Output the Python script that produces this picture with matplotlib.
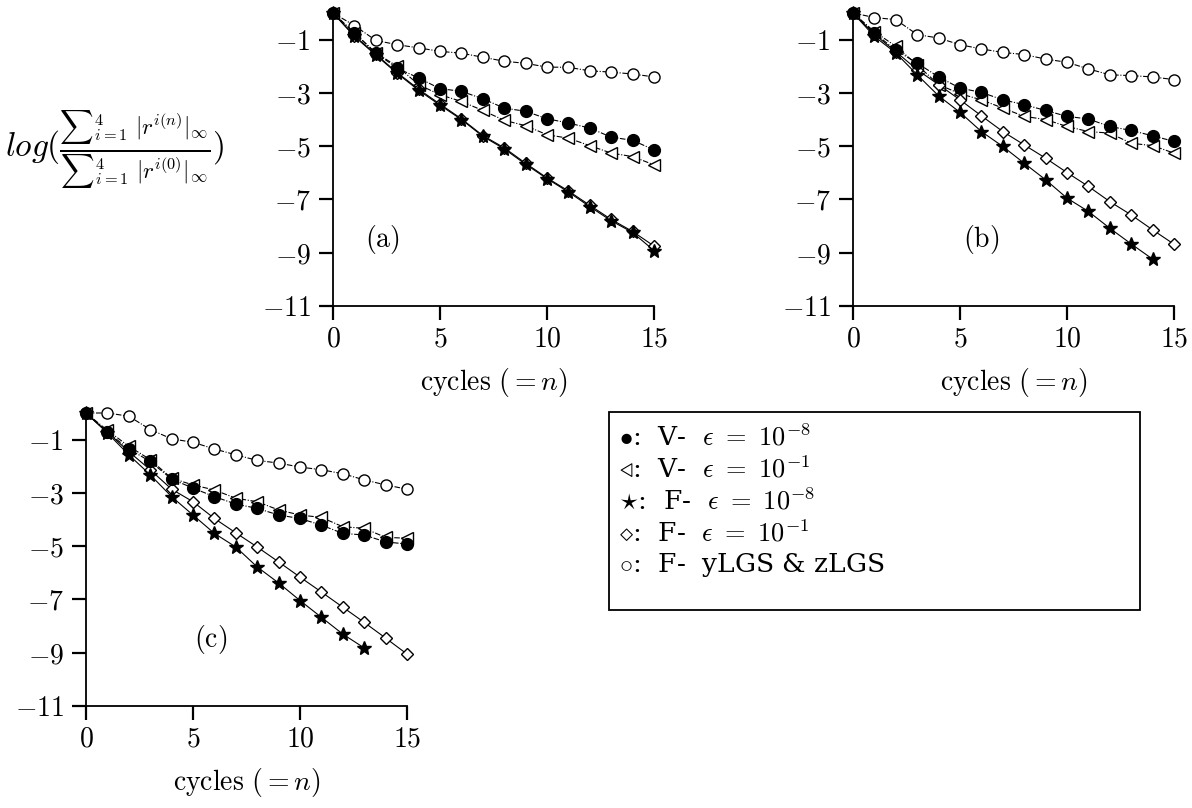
import numpy as np
import matplotlib
matplotlib.use("Agg")
import matplotlib.pyplot as plt
from matplotlib.patches import Rectangle

plt.rcParams['mathtext.fontset'] = 'cm'
plt.rcParams['font.family'] = 'serif'

cycles = np.arange(16)

# panel (a)
a_vfine = [0, -0.75, -1.50, -2.07, -2.44, -2.84, -2.94, -3.22, -3.57, -3.69, -3.97, -4.13, -4.32, -4.66, -4.78, -5.14]
a_vcoarse = [0, -0.75, -1.50, -2.00, -2.69, -3.07, -3.32, -3.66, -4.03, -4.23, -4.57, -4.70, -4.98, -5.26, -5.39, -5.70]
a_ffine = [0, -0.88, -1.58, -2.27, -2.90, -3.46, -4.00, -4.63, -5.10, -5.68, -6.22, -6.72, -7.27, -7.80, -8.24, -8.92]
a_fcoarse = [0, -0.85, -1.55, -2.24, -2.86, -3.42, -3.97, -4.60, -5.06, -5.64, -6.19, -6.68, -7.22, -7.75, -8.20, -8.75]
a_lgs = [0, -0.47, -1.03, -1.19, -1.31, -1.44, -1.51, -1.66, -1.81, -1.89, -2.03, -2.04, -2.17, -2.22, -2.29, -2.40]

# panel (b)
b_vfine = [0, -0.75, -1.40, -1.88, -2.40, -2.82, -2.98, -3.26, -3.44, -3.66, -3.88, -3.98, -4.26, -4.41, -4.61, -4.82]
b_vcoarse = [0, -0.70, -1.25, -1.95, -2.69, -3.03, -3.26, -3.57, -3.88, -4.00, -4.26, -4.45, -4.51, -4.89, -4.98, -5.26]
b_ffine = [0, -0.88, -1.50, -2.32, -3.11, -3.73, -4.45, -5.01, -5.64, -6.26, -6.95, -7.45, -8.08, -8.67, -9.24]
b_fcoarse = [0, -0.80, -1.45, -2.13, -2.69, -3.26, -3.86, -4.45, -4.95, -5.45, -5.99, -6.51, -7.08, -7.58, -8.14, -8.68]
b_lgs = [0, -0.17, -0.25, -0.81, -0.94, -1.19, -1.35, -1.48, -1.56, -1.73, -1.85, -2.10, -2.32, -2.35, -2.40, -2.50]

# panel (c)
c_vfine = [0, -0.72, -1.35, -1.82, -2.48, -2.82, -3.14, -3.42, -3.58, -3.83, -3.96, -4.21, -4.52, -4.58, -4.84, -4.92]
c_vcoarse = [0, -0.65, -1.25, -1.75, -2.45, -2.70, -2.89, -3.20, -3.33, -3.64, -3.83, -3.92, -4.27, -4.33, -4.67, -4.70]
c_ffine = [0, -0.75, -1.57, -2.32, -3.14, -3.83, -4.52, -5.03, -5.78, -6.38, -7.04, -7.67, -8.30, -8.82]
c_fcoarse = [0, -0.72, -1.45, -2.13, -2.86, -3.33, -3.96, -4.50, -5.03, -5.59, -6.16, -6.72, -7.29, -7.86, -8.45, -9.05]
c_lgs = [0, 0.00, -0.12, -0.62, -0.97, -1.10, -1.35, -1.57, -1.78, -1.88, -2.03, -2.13, -2.28, -2.51, -2.70, -2.86]

yticks = [-1, -3, -5, -7, -9, -11]
xticks = [0, 5, 10, 15]

legend_lines = [r"$\bullet$:  V-  $\epsilon\ =\ 10^{-8}$",
                r"$\triangleleft$:  V-  $\epsilon\ =\ 10^{-1}$",
                r"$\star$:  F-  $\epsilon\ =\ 10^{-8}$",
                r"$\diamond$:  F-  $\epsilon\ =\ 10^{-1}$",
                r"$\circ$:  F-  yLGS & zLGS"]

dashdot = (0, (5, 1.5, 1, 1.5))

W, H = 1192, 808
fig = plt.figure(figsize=(W / 100, H / 100), dpi=100)

def px_axes(left, top, right, bottom):
    return fig.add_axes([left / W, 1 - bottom / H, (right - left) / W, (bottom - top) / H])

def draw_panel(ax, lgs, vfine, vcoarse, ffine, fcoarse, tag, tagx):
    ax.plot(cycles[:len(lgs)], lgs, color='black', lw=0.8, ls=dashdot, marker='o',
            ms=8, mfc='white', mec='black', mew=1.0, clip_on=False, zorder=3)
    ax.plot(cycles[:len(vcoarse)], vcoarse, color='black', lw=0.8, ls=dashdot, marker='<',
            ms=9, mfc='white', mec='black', mew=1.0, clip_on=False, zorder=3)
    ax.plot(cycles[:len(vfine)], vfine, color='black', lw=0.8, ls=dashdot, marker='o',
            ms=8.5, mfc='black', mec='black', clip_on=False, zorder=4)
    ax.plot(cycles[:len(fcoarse)], fcoarse, color='black', lw=0.8, ls='-', marker='D',
            ms=6.5, mfc='white', mec='black', mew=1.0, clip_on=False, zorder=3)
    ax.plot(cycles[:len(ffine)], ffine, color='black', lw=0.8, ls='-', marker='*',
            ms=10, mfc='black', mec='black', clip_on=False, zorder=4)
    ax.set_xlim(0, 15)
    ax.set_ylim(-11, 0)
    for s in ['top', 'right']:
        ax.spines[s].set_visible(False)
    for s in ['left', 'bottom']:
        ax.spines[s].set_linewidth(1.3)
    ax.set_xticks(xticks)
    ax.set_xticklabels([f"${v}$" for v in xticks])
    ax.set_yticks(yticks)
    ax.set_yticklabels([f"${v}$" for v in yticks])
    ax.tick_params(axis='both', direction='out', length=10, width=1.6, labelsize=20)
    ax.tick_params(axis='x', pad=4)
    ax.tick_params(axis='y', pad=6)
    ax.set_xlabel(r"$\mathrm{cycles}\ (=n)$", fontsize=20, labelpad=10)
    ax.text(tagx, -8.52, r"$(\mathrm{" + tag + "})$", fontsize=20, ha='center', va='center')
    ax.patch.set_alpha(0)

ax_a = px_axes(333, 13, 654, 306)
draw_panel(ax_a, a_lgs, a_vfine, a_vcoarse, a_ffine, a_fcoarse, 'a', 2.3)
ax_b = px_axes(853, 13, 1174, 306)
draw_panel(ax_b, b_lgs, b_vfine, b_vcoarse, b_ffine, b_fcoarse, 'b', 6.0)
ax_c = px_axes(86, 413, 407, 706)
draw_panel(ax_c, c_lgs, c_vfine, c_vcoarse, c_ffine, c_fcoarse, 'c', 5.8)

fig.text(5 / W, 1 - 150 / H,
         r"$log(\frac{{\sum}_{i=1}^{4}\ |r^{i(n)}|_\infty}{{\sum}_{i=1}^{4}\ |r^{i(0)}|_\infty})$",
         fontsize=24, ha='left', va='center')

# legend box
fig.patches.append(Rectangle((609 / W, 1 - 610 / H), (1140 - 609) / W, (610 - 412) / H,
                             transform=fig.transFigure, fill=False, lw=1.3, ec='black'))
for i, line in enumerate(legend_lines):
    fig.text(619 / W, 1 - (437 + 32 * i) / H, line, fontsize=19, ha='left', va='center')

fig.savefig("out.png", dpi=100)
